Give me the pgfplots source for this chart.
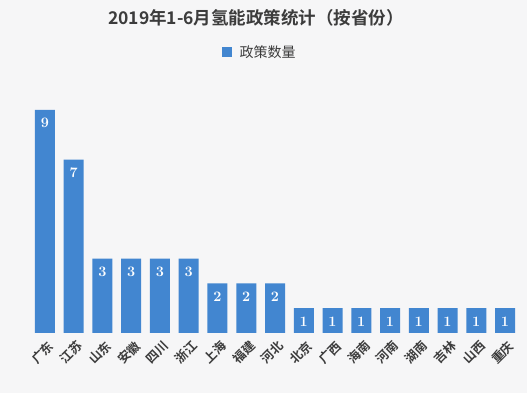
\documentclass[border=0pt]{standalone}
\usepackage{pgfplots}
\pgfplotsset{compat=1.18}
\usepackage{fontspec}
\newfontfamily\cjk{Noto Sans CJK SC}[BoldFont={Noto Sans CJK SC Bold}]
\definecolor{barblue}{RGB}{66,134,208}
\definecolor{bgc}{RGB}{246,246,247}
\definecolor{txt}{RGB}{60,60,60}
\begin{document}
\begin{tikzpicture}[x=1pt,y=1pt]
\fill[bgc] (0,0) rectangle (527,393);
\begin{axis}[
  at={(30.6pt,60pt)}, anchor=south west,
  scale only axis, width=488.8pt, height=235.4pt,
  ymin=0, ymax=9.5, xmin=-0.5, xmax=16.5,
  axis line style={draw=none}, ytick=\empty,
  xtick=data, major tick length=0pt,
  xticklabels={广东,江苏,山东,安徽,四川,浙江,上海,福建,河北,北京,广西,海南,河南,湖南,吉林,山西,重庆},
  xticklabel style={rotate=45, anchor=north east, font=\cjk\bfseries\fontsize{12.5}{14}\selectfont, text=txt, inner sep=0pt, xshift=-3pt, yshift=-6pt},
  ybar, bar width=20pt,
  nodes near coords,
  nodes near coords style={anchor=north, yshift=-5pt, text=white, font=\fontsize{14}{16}\selectfont\bfseries\boldmath},
  clip=false,
]
\addplot[fill=barblue, draw=none] coordinates {
(0,9) (1,7) (2,3) (3,3) (4,3) (5,3) (6,2) (7,2) (8,2) (9,1) (10,1) (11,1) (12,1) (13,1) (14,1) (15,1) (16,1)};
\end{axis}
\node[text=txt, font=\cjk\bfseries\fontsize{17.5}{20}\selectfont] at (256,375) {2019年1-6月氢能政策统计（按省份）};
\fill[barblue] (222,336) rectangle (232,346);
\node[anchor=west, text=txt, font=\cjk\fontsize{14}{16}\selectfont] at (236,341) {政策数量};
\end{tikzpicture}
\end{document}
